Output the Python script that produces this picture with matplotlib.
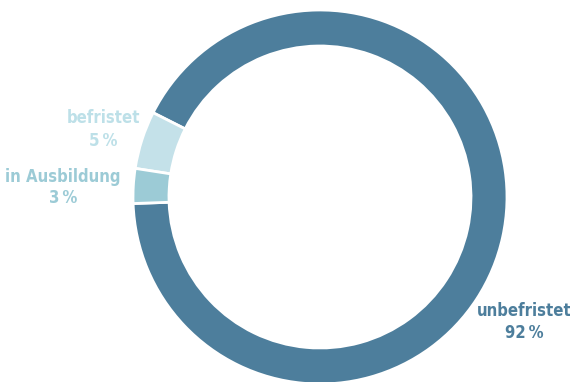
import matplotlib.pyplot as plt

# anteile in prozent
labels = ['unbefristet', 'befristet', 'in Ausbildung']
values = [92, 5, 3]
colors = ['#4d7e9c', '#c4e1e9', '#9ccbd6']
text_colors = ['#4d7e9c', '#bde0e8', '#9ccbd6']

plt.rcParams['font.family'] = ['DejaVu Sans']

fig = plt.figure(figsize=(5.7, 3.82), dpi=100)
ax = fig.add_axes([0, 0, 1, 1])

# donut, pixel coords (y nach oben)
ax.pie(values, colors=colors, startangle=182, counterclock=True,
       center=(320, 185), radius=187, frame=True,
       wedgeprops=dict(width=36, edgecolor='white', linewidth=2))
ax.set_xlim(0, 570)
ax.set_ylim(0, 382)
ax.set_aspect('equal')
ax.axis('off')

label_pos = [(524, 382 - 311, 382 - 333), (103, 382 - 118, 382 - 141), (63, 382 - 177, 382 - 198)]
for lab, val, col, (x, y1, y2) in zip(labels, values, text_colors, label_pos):
    ax.text(x, y1, lab, color=col, fontsize=12, fontweight='bold', fontstretch='condensed',
            ha='center', va='center')
    ax.text(x, y2, f'{val}\u2009%', color=col, fontsize=12, fontweight='bold', fontstretch='condensed',
            ha='center', va='center')

fig.savefig('out.png', dpi=100)
